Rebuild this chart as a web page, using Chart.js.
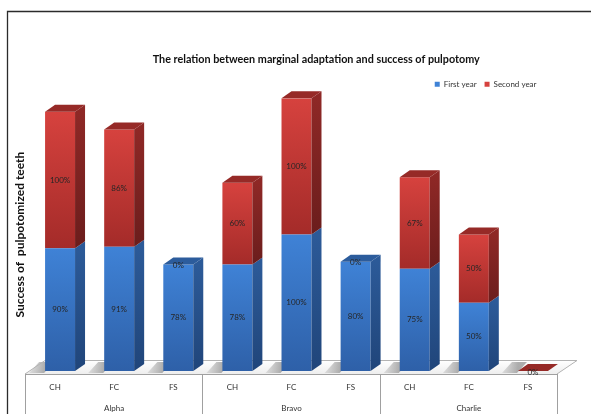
<!DOCTYPE html>
<html>
<head>
<meta charset="utf-8">
<title>Marginal adaptation and pulpotomy success</title>
<script src="https://cdn.jsdelivr.net/npm/chart.js@4.4.1/dist/chart.umd.min.js"></script>
<style>
  html, body { margin: 0; padding: 0; background: #fff; overflow: hidden; }
  .chart-box { position: relative; width: 591px; height: 424px; }
</style>
</head>
<body>
<div class="chart-box"><canvas id="pulpChart"></canvas></div>
<script>
const materials = ['CH', 'FC', 'FS'];
const groups = ['Alpha', 'Bravo', 'Charlie'];
const firstYear = [90, 91, 78, 78, 100, 80, 75, 50, 0];
const secondYear = [100, 86, 0, 60, 100, 0, 67, 50, 0];
const seriesNames = ['First year', 'Second year'];
const yMax = 200;

// two-line ticks: material on top, group name under the middle bar of each group
const labels = [];
groups.forEach(g => materials.forEach((m, j) => labels.push([m, j === 1 ? g : ''])));

const series = [firstYear, secondYear];

// bar depth (side + top faces) and floor depth
const depth = { dx: 10, dy: -7 };
const floorDepth = { dx: 20, dy: -13.5 };

const faces = [
    { front: ['#3f82d6', '#2e60a8'], side: ['#2c5a98', '#20457a'], top: '#2c5c9c' },
    { front: ['#d6423e', '#a42b29'], side: ['#8e2826', '#6b1d1c'], top: '#962a27' }
];

function frontFill(ctx) {
    const face = faces[ctx.datasetIndex];
    const chart = ctx.chart;
    const y = chart.scales.y;
    if (ctx.type !== 'data' || !y || !chart.chartArea) return face.front[0];
    const i = ctx.dataIndex;
    const lo = ctx.datasetIndex === 0 ? 0 : firstYear[i];
    const hi = lo + series[ctx.datasetIndex][i];
    if (hi === lo) return face.front[0];
    const g = chart.ctx.createLinearGradient(0, y.getPixelForValue(hi), 0, y.getPixelForValue(lo));
    g.addColorStop(0, face.front[0]);
    g.addColorStop(1, face.front[1]);
    return g;
}

function nudge(box, dx) {
    if (!box) return;
    box.left += dx;
    box.right += dx;
}

function quad(ctx, pts, fill) {
    ctx.beginPath();
    ctx.moveTo(pts[0][0], pts[0][1]);
    for (let k = 1; k < pts.length; k++) ctx.lineTo(pts[k][0], pts[k][1]);
    ctx.closePath();
    ctx.fillStyle = fill;
    ctx.fill();
}

// index of the segment whose top face is visible for category i
function topSegment(i) {
    if (secondYear[i] > 0) return 1;
    if (firstYear[i] > 0) return 0;
    return 1;
}

const bar3d = {
    id: 'bar3d',
    afterLayout(chart) {
        // title sits centred on the whole frame, legend pulled in from the right
        nudge(chart.titleBlock, 30);
        nudge(chart.legend, -18);
    },
    beforeDraw(chart) {
        const ctx = chart.ctx;
        ctx.save();
        ctx.strokeStyle = '#2b2b2b';
        ctx.lineWidth = 1.3;
        ctx.beginPath();
        ctx.moveTo(7.5, chart.height);
        ctx.lineTo(7.5, 11.5);
        ctx.lineTo(chart.width, 11.5);
        ctx.stroke();
        ctx.restore();
    },
    beforeDatasetsDraw(chart) {
        const ctx = chart.ctx;
        const area = chart.chartArea;
        const base = chart.scales.y.getPixelForValue(0);
        const fl = area.left - 5.5, fr = area.right - 5.5, fy = base + 3;
        const catW = (area.right - area.left) / labels.length;
        ctx.save();

        // floor
        const g = ctx.createLinearGradient(0, fy, 0, fy + floorDepth.dy);
        g.addColorStop(0, '#eeeeee');
        g.addColorStop(1, '#ffffff');
        quad(ctx, [[fl, fy], [fr, fy], [fr + floorDepth.dx, fy + floorDepth.dy], [fl + floorDepth.dx, fy + floorDepth.dy]], g);

        // soft shading on the floor beside each bar
        chart.getDatasetMeta(0).data.forEach(el => {
            const p = el.getProps(['x', 'width'], true);
            const sx = p.x - p.width / 2;
            const sg = ctx.createLinearGradient(sx - 24, 0, sx, 0);
            sg.addColorStop(0, 'rgba(160,160,160,0)');
            sg.addColorStop(1, 'rgba(140,140,140,0.7)');
            quad(ctx, [[sx - 16, fy - 1], [sx - 1, fy - 1], [sx + 9, base - 9], [sx - 6, base - 9]], sg);
        });

        ctx.strokeStyle = '#b3b3b3';
        ctx.lineWidth = 1;
        ctx.beginPath();
        ctx.moveTo(fl, fy);
        ctx.lineTo(fl + floorDepth.dx, fy + floorDepth.dy);
        ctx.lineTo(fr + floorDepth.dx, fy + floorDepth.dy);
        ctx.lineTo(fr, fy);
        ctx.stroke();

        // category table under the floor
        ctx.strokeStyle = '#a0a0a0';
        ctx.beginPath();
        ctx.moveTo(fl, Math.round(fy) + 0.5);
        ctx.lineTo(fr, Math.round(fy) + 0.5);
        for (let k = 0; k <= groups.length; k++) {
            const x = Math.round(fl + k * materials.length * catW) + 0.5;
            ctx.moveTo(x, fy);
            ctx.lineTo(x, chart.height);
        }
        ctx.stroke();
        ctx.restore();
    },
    afterDatasetsDraw(chart) {
        const ctx = chart.ctx;
        const { dx, dy } = depth;
        ctx.save();

        chart.data.datasets.forEach((ds, d) => {
            const face = faces[d];
            chart.getDatasetMeta(d).data.forEach((el, i) => {
                const p = el.getProps(['x', 'y', 'base', 'width'], true);
                const l = p.x - p.width / 2, r = p.x + p.width / 2;
                if (series[d][i] > 0) {
                    const sg = ctx.createLinearGradient(0, p.y, 0, p.base);
                    sg.addColorStop(0, face.side[0]);
                    sg.addColorStop(1, face.side[1]);
                    quad(ctx, [[r, p.y], [r + dx, p.y + dy], [r + dx, p.base + dy], [r, p.base]], sg);
                }
                if (topSegment(i) === d) {
                    quad(ctx, [[l, p.y], [l + dx, p.y + dy], [r + dx, p.y + dy], [r, p.y]], face.top);
                }
            });
        });

        // value labels
        ctx.font = '8px Lato';
        ctx.fillStyle = '#262626';
        ctx.textAlign = 'center';
        ctx.textBaseline = 'middle';
        const drawn = new Set();
        chart.data.datasets.forEach((ds, d) => {
            chart.getDatasetMeta(d).data.forEach((el, i) => {
                const p = el.getProps(['x', 'y', 'base'], true);
                const v = series[d][i];
                const ty = v > 0 ? (p.y + p.base) / 2 : p.y + 1;
                const key = Math.round(p.x) + ':' + Math.round(ty);
                if (drawn.has(key)) return;
                drawn.add(key);
                ctx.fillText(v + '%', p.x, ty);
            });
        });
        ctx.restore();
    }
};

new Chart(document.getElementById('pulpChart'), {
    type: 'bar',
    data: {
        labels: labels,
        datasets: seriesNames.map((name, d) => ({
            label: name,
            data: series[d],
            backgroundColor: frontFill,
            borderWidth: 0,
            barPercentage: 0.507,
            categoryPercentage: 1
        }))
    },
    options: {
        responsive: true,
        maintainAspectRatio: false,
        animation: false,
        layout: { padding: { top: 12, left: 10, right: 28.5, bottom: 0 } },
        plugins: {
            title: {
                display: true,
                text: 'The relation between marginal adaptation and success of pulpotomy',
                color: '#111',
                font: { family: 'Lato', size: 10.8, weight: 'bold', lineHeight: 1.2 },
                padding: { top: 41.5, bottom: 5.7 }
            },
            legend: {
                position: 'top',
                align: 'end',
                labels: {
                    color: '#333',
                    boxWidth: 5,
                    boxHeight: 5,
                    padding: 8,
                    font: { family: 'Lato', size: 8 }
                }
            },
            tooltip: { enabled: false }
        },
        scales: {
            x: {
                stacked: true,
                grid: { display: false, drawTicks: false },
                border: { display: false },
                ticks: {
                    autoSkip: false,
                    maxRotation: 0,
                    padding: 5.5,
                    labelOffset: -5,
                    color: '#333',
                    font: { family: 'Lato', size: 8, lineHeight: '21px' }
                }
            },
            y: {
                stacked: true,
                min: 0,
                max: yMax,
                ticks: { display: false },
                grid: { display: false, drawTicks: false },
                border: { display: false },
                title: {
                    display: true,
                    text: 'Success of  pulpotomized teeth',
                    color: '#111',
                    font: { family: 'Lato', size: 12, weight: 'bold', lineHeight: 1.2 },
                    padding: { top: 2.8, bottom: 3.3 }
                }
            }
        }
    },
    plugins: [bar3d]
});
</script>
</body>
</html>
